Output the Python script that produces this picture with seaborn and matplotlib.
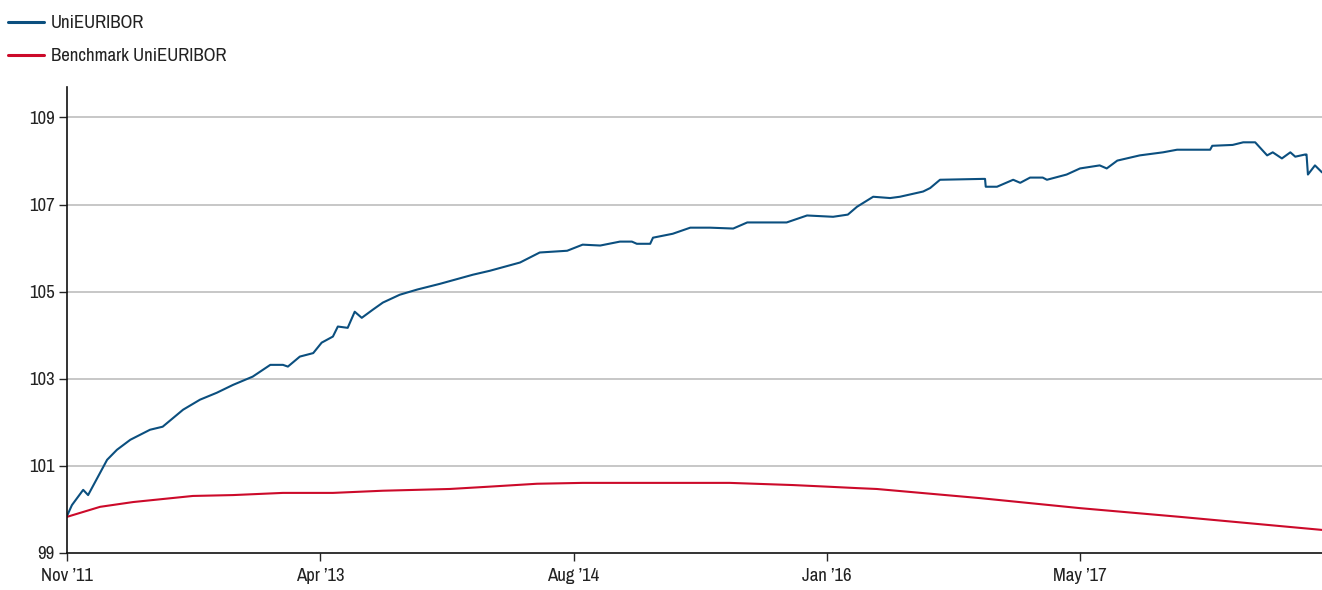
import pandas as pd
import matplotlib
matplotlib.use('Agg')
import matplotlib.pyplot as plt
import seaborn as sns
from matplotlib import font_manager

uni_obs = [0, 7, 23, 30, 47, 57, 71, 90, 118, 136, 165, 189, 213, 236, 264, 289, 307, 314,
           331, 350, 362, 378, 385, 399, 409, 419, 435, 449, 473, 498, 530, 577, 601, 644,
           672, 711, 733, 758, 786, 803, 810, 829, 833, 861, 886, 914, 947, 967, 1023, 1052,
           1089, 1110, 1123, 1146, 1170, 1184, 1217, 1227, 1241, 1302, 1305, 1306, 1322, 1345,
           1355, 1369, 1387, 1393, 1421, 1440, 1468, 1478, 1493, 1525, 1558, 1578, 1625, 1628,
           1657, 1672, 1689, 1706, 1714, 1727, 1739, 1746, 1760, 1762, 1764, 1774, 1784]
uni_val = [99.85, 100.10, 100.45, 100.33, 100.84, 101.14, 101.37, 101.60, 101.83, 101.90,
           102.29, 102.52, 102.68, 102.86, 103.05, 103.32, 103.32, 103.28, 103.51, 103.59,
           103.83, 103.97, 104.20, 104.17, 104.54, 104.40, 104.59, 104.75, 104.93, 105.05,
           105.18, 105.39, 105.48, 105.67, 105.90, 105.94, 106.08, 106.06, 106.15, 106.15,
           106.10, 106.10, 106.24, 106.33, 106.47, 106.47, 106.45, 106.59, 106.59, 106.75,
           106.72, 106.77, 106.95, 107.18, 107.15, 107.18, 107.30, 107.38, 107.57, 107.59,
           107.59, 107.41, 107.41, 107.57, 107.50, 107.62, 107.62, 107.57, 107.69, 107.83,
           107.90, 107.83, 108.01, 108.13, 108.20, 108.26, 108.26, 108.35, 108.37, 108.43,
           108.43, 108.13, 108.20, 108.06, 108.20, 108.10, 108.15, 108.15, 107.69, 107.90,
           107.74]

bench_obs = [0, 47, 94, 179, 236, 307, 378, 449, 544, 597, 668, 733, 942, 1032, 1085, 1123,
             1151, 1298, 1440, 1582, 1784]
bench_val = [99.83, 100.06, 100.17, 100.31, 100.33, 100.38, 100.38, 100.43, 100.47, 100.52,
             100.59, 100.61, 100.61, 100.56, 100.52, 100.49, 100.47, 100.26, 100.03, 99.83,
             99.53]

tick_pos = [0, 360, 720, 1080, 1440]
tick_labels = ["Nov \u201911", "Apr \u201913", "Aug \u201914", "Jan \u201916", "May \u201917"]
y_ticks = [99, 101, 103, 105, 107, 109]

df = pd.concat([
    pd.DataFrame({'obs': uni_obs, 'value': uni_val, 'series': 'UniEURIBOR'}),
    pd.DataFrame({'obs': bench_obs, 'value': bench_val, 'series': 'Benchmark UniEURIBOR'}),
])

sns.set_style('white')
# pick a narrow face if one is installed, otherwise a compact sans
installed = sorted({f.name for f in font_manager.fontManager.ttflist})
narrow = [n for n in installed if 'Narrow' in n or 'Condensed' in n]
if narrow:
    fam, fsize = narrow[0], 13.5
elif 'Roboto' in installed:
    fam, fsize = 'Roboto', 11.5
else:
    fam, fsize = 'Liberation Sans', 11.5
plt.rcParams['font.family'] = [fam, 'DejaVu Sans']

fig = plt.figure(figsize=(13.22, 5.9), dpi=100)
ax = fig.add_axes([67 / 1322, 37 / 590, 1 - 67 / 1322, (553 - 87) / 590])

palette = {'UniEURIBOR': '#0b4f7f', 'Benchmark UniEURIBOR': '#cc0a2a'}
sns.lineplot(data=df, x='obs', y='value', hue='series', palette=palette, ax=ax,
             linewidth=1.5, legend=False, estimator=None, sort=False)

ax.set_xlim(0, 1784)
ax.set_ylim(99, 109.7)
ax.set_xticks(tick_pos)
ax.set_xticklabels(tick_labels)
ax.set_yticks(y_ticks)
ax.set_xlabel('')
ax.set_ylabel('')
ax.tick_params(axis='both', labelsize=fsize, length=6, width=1,
               direction='out', bottom=True, left=True)
ax.tick_params(axis='y', pad=3)
ax.tick_params(axis='x', pad=5)
for t in ax.get_xticklabels() + ax.get_yticklabels():
    t.set_color('#222222')

for y in y_ticks[1:]:
    ax.axhline(y, color='#bdbdbd', linewidth=1.2, zorder=0)

for s in ['top', 'right']:
    ax.spines[s].set_visible(False)
for s in ['left', 'bottom']:
    ax.spines[s].set_color('#111111')
    ax.spines[s].set_linewidth(1.2)

handles = [plt.Line2D([], [], color=palette[k], linewidth=2.2) for k in palette]
leg = fig.legend(handles, list(palette.keys()), loc='upper left', bbox_to_anchor=(-0.005, 1.0),
                 frameon=False, fontsize=fsize, handlelength=1.9, handletextpad=0.35,
                 labelspacing=0.9, borderaxespad=0.5, borderpad=0.3)
for t in leg.get_texts():
    t.set_color('#222222')

fig.savefig('out.png', dpi=100)
